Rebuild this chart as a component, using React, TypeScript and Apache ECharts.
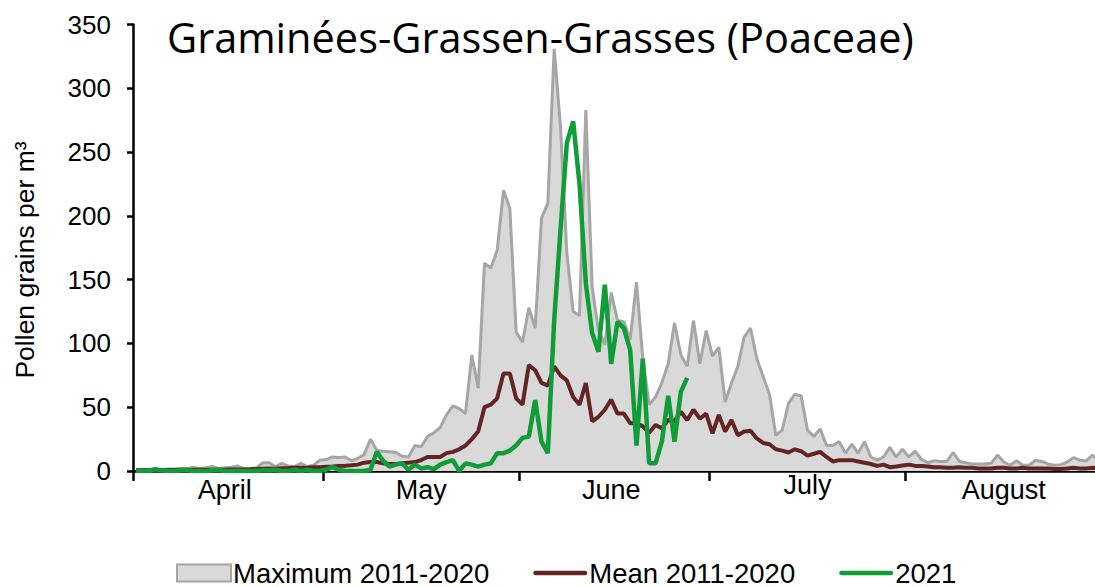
import React, { useEffect, useRef } from "react";
import * as echarts from "echarts";

// Months shown on the x axis (daily categories, April 1 – August 31)
const monthNames = ["April", "May", "June", "July", "August"];
const monthLengths = [30, 31, 30, 31, 31];
const labelDays = [15, 16, 15, 16, 16]; // day of month where the month label sits

// Maximum 2011-2020 (daily, Apr 1 .. Aug 31)
const maxValues = [
  1, 1, 1, 1.5, 1, 1.5, 1.5, 2, 1.5, 3,
  2, 2.5, 3.5, 2, 2.5, 3, 4, 2, 2, 2.5,
  6.5, 6.5, 3.5, 6, 4, 3.5, 6, 3.5, 4.5, 8.5,
  9, 11, 10.5, 11, 8, 10, 13, 25, 16, 15.5,
  15, 14.5, 11.5, 11, 20, 19, 27, 30, 34, 44,
  51, 49, 45, 91, 65, 163, 159, 173, 220, 206,
  109, 101, 128, 112, 198, 210, 331, 270, 171, 125,
  122, 283, 144, 110, 99, 140, 118, 117, 103, 148,
  88, 52, 58, 69, 84, 116, 91, 82, 118, 84,
  110, 90, 97, 54, 69, 82, 105, 112, 88, 74,
  60, 28, 32, 53, 60, 59, 32, 27, 33, 20,
  20, 23, 14, 21, 14, 23, 11, 8.5, 11, 18.5,
  11, 17, 11, 15.5, 9, 6.5, 8, 7.5, 7.5, 14.5,
  7.5, 6.5, 5.5, 5.5, 5.5, 6, 12.5, 7, 4.5, 8,
  4.5, 4.5, 8.5, 7.5, 5.5, 4.5, 5, 7, 10.5, 8.5,
  8, 12.5, 8.5,
];

// Mean 2011-2020
const meanValues = [
  0.5, 0.5, 0.5, 0.7, 0.7, 0.8, 0.8, 1, 1, 1,
  1, 1, 1, 1, 1, 1.2, 1.2, 1.2, 1.3, 1.5,
  1.8, 2, 1.8, 2.2, 2.3, 2.5, 2.5, 2.5, 3, 3,
  3.4, 3.6, 4, 4.2, 4.5, 5, 6.5, 7, 7, 6,
  5.5, 5.5, 6, 6.5, 7, 8.6, 11, 11, 11, 14,
  15, 17, 20, 25, 31, 50, 52, 57, 76.5, 76.5,
  57, 52, 83, 79, 69, 67, 82, 75, 71, 58,
  52, 69, 39, 42.5, 48, 56, 45, 45, 37.5, 37.5,
  35, 30, 36, 33.5, 40, 39, 46.5, 40, 48, 41,
  45, 29.5, 44, 31, 40, 28, 31, 31.5, 25.5, 22,
  21, 17, 16, 14.5, 17, 15.5, 12, 13.5, 15, 11,
  7.5, 8.5, 8.5, 8.5, 7.5, 6.5, 5.5, 4, 5, 3,
  3.5, 4.3, 5, 4, 4, 3.5, 3, 3, 2.5, 2.5,
  3, 2.5, 2.5, 2, 2, 2, 2.5, 2.5, 2, 2,
  2.5, 2, 2, 2, 2, 1.5, 1.5, 2, 2.5, 2,
  2, 2.5, 2,
];

// 2021 (up to June 27)
const values2021 = [
  0, 0, 0, 1.5, 0.5, 0, 0, 0.5, 1, 0,
  0, 0, 0.5, 1, 0, 0, 0, 0, 0, 0,
  0.5, 0.5, 1, 0, 0, 1, 0, 1, 0, 0,
  1, 3, 1, 0, 0, 0, 0, 1, 15, 8,
  3.5, 5, 6, 1, 5, 2, 3, 1.5, 5, 7,
  8.6, 0, 6, 5, 3.5, 5, 6, 14, 14, 16,
  20, 26, 27, 55.6, 23, 14, 118, 189, 257, 274,
  225, 147, 108, 93.5, 146, 84, 117, 112, 95, 20,
  88, 6, 6, 23, 59, 23, 62, 73,
];

const yTicks = { min: 0, max: 350, step: 50 };

// Build day categories
const categories: string[] = [];
const monthStartIdx: number[] = [];
const monthLabelIdx: number[] = [];
monthNames.forEach((m, mi) => {
  for (let d = 1; d <= monthLengths[mi]; d++) {
    if (d === 1) monthStartIdx.push(categories.length);
    if (d === labelDays[mi]) monthLabelIdx.push(categories.length);
    categories.push(m + " " + d);
  }
});

const AXIS_FONT = '"Liberation Sans", Arial, sans-serif';
const LINE_ICON = "path://M2,0 L52,0 A2.25,2.25 0 0 1 52,4.5 L2,4.5 A2.25,2.25 0 0 1 2,0 Z";

export default function App() {
  const ref = useRef<HTMLDivElement>(null);
  useEffect(() => {
    if (!ref.current) return;
    const chart = echarts.init(ref.current, undefined, { renderer: "svg" });
    chart.setOption({
      animation: false,
      backgroundColor: "#ffffff",
      grid: { left: 133, top: 24.5, right: 0, bottom: 116, containLabel: false },
      xAxis: {
        type: "category",
        data: categories,
        boundaryGap: true,
        axisLine: { show: true, lineStyle: { color: "#000", width: 2.5 } },
        axisTick: {
          show: true,
          interval: (idx: number) => monthStartIdx.includes(idx),
          length: 10,
          lineStyle: { color: "#000", width: 2.5 },
        },
        axisLabel: {
          show: true,
          interval: (idx: number) => monthLabelIdx.includes(idx),
          formatter: (val: string) => {
            const m = val.split(" ")[0];
            return m === "July" ? "{j|" + m + "}" : "{n|" + m + "}";
          },
          margin: 5,
          rich: {
            n: { fontSize: 27, fontFamily: AXIS_FONT, color: "#000", lineHeight: 27 },
            j: { fontSize: 27, fontFamily: AXIS_FONT, color: "#000", lineHeight: 17 },
          },
        },
        splitLine: { show: false },
      },
      yAxis: {
        type: "value",
        min: yTicks.min,
        max: yTicks.max,
        interval: yTicks.step,
        axisLine: { show: true, lineStyle: { color: "#000", width: 2.5 } },
        axisTick: { show: true, length: 6, lineStyle: { color: "#000", width: 2.5 } },
        axisLabel: { fontSize: 26, fontFamily: AXIS_FONT, color: "#000", margin: 22 },
        splitLine: { show: false },
      },
      legend: {
        left: 176,
        top: 559,
        padding: 0,
        itemGap: 44,
        itemWidth: 54,
        itemHeight: 17,
        textStyle: { fontSize: 27.5, fontFamily: AXIS_FONT, color: "#000", padding: [0, 0, 0, -3] },
        data: [
          {
            name: "Maximum 2011-2020",
            icon: "rect",
            itemStyle: { color: "#d9d9d9", borderColor: "#a6a6a6", borderWidth: 2 },
          },
          { name: "Mean 2011-2020", icon: LINE_ICON, itemStyle: { color: "#632523", borderWidth: 0 } },
          { name: "2021", icon: LINE_ICON, itemStyle: { color: "#109c36", borderWidth: 0 } },
        ],
      },
      graphic: [
        {
          type: "text",
          x: 167,
          y: 37,
          style: {
            text: "Graminées-Grassen-Grasses (Poaceae)",
            font: '41.5px "Open Sans", sans-serif',
            fill: "#000",
            align: "left",
            verticalAlign: "middle",
          },
        },
        {
          type: "text",
          x: 25,
          y: 260,
          rotation: Math.PI / 2,
          style: {
            text: "Pollen grains per m³",
            font: '26.5px "Liberation Sans", Arial, sans-serif',
            fill: "#000",
            align: "center",
            verticalAlign: "middle",
          },
        },
      ],
      series: [
        {
          name: "Maximum 2011-2020",
          type: "line",
          data: maxValues,
          symbol: "none",
          z: 1,
          lineStyle: { color: "#a6a6a6", width: 3 },
          itemStyle: { color: "#a6a6a6" },
          areaStyle: { color: "#d9d9d9", opacity: 1 },
        },
        {
          name: "Mean 2011-2020",
          type: "line",
          data: meanValues,
          symbol: "none",
          z: 2,
          lineStyle: { color: "#632523", width: 4 },
          itemStyle: { color: "#632523" },
        },
        {
          name: "2021",
          type: "line",
          data: values2021,
          symbol: "none",
          z: 3,
          lineStyle: { color: "#109c36", width: 4.5 },
          itemStyle: { color: "#109c36" },
        },
      ],
    });
    return () => chart.dispose();
  }, []);
  return (
    <div
      ref={ref}
      style={{ position: "fixed", left: 0, top: 0, width: 1102, height: 587, background: "#fff" }}
    />
  );
}
